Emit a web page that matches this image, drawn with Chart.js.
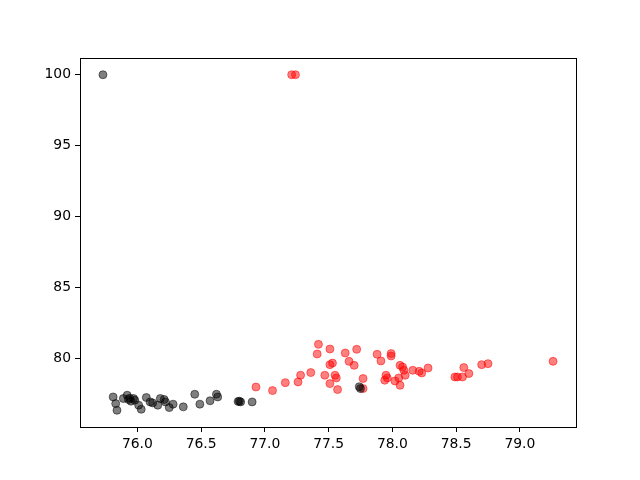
<!DOCTYPE html>
<html>
<head>
<meta charset="utf-8">
<script src="https://cdn.jsdelivr.net/npm/chart.js@4"></script>
<style>
  html, body { margin: 0; padding: 0; background: #fff; }
  #wrap { width: 640px; height: 480px; }
</style>
</head>
<body>
<div id="wrap"><canvas id="chart" width="640" height="480"></canvas></div>
<script>
// black group
const blackX = [75.73, 75.81, 75.83, 75.84, 75.89, 75.92, 75.93, 75.94, 75.95, 75.97, 75.98,
  76.01, 76.03, 76.07, 76.10, 76.12, 76.16, 76.18, 76.21, 76.22, 76.25, 76.28, 76.36, 76.45,
  76.49, 76.57, 76.62, 76.63, 76.79, 76.81, 76.80, 76.90, 77.74, 77.75];
const blackY = [100.0, 77.27, 76.80, 76.33, 77.16, 77.39, 77.09, 77.18, 76.97, 77.16, 77.04,
  76.69, 76.40, 77.23, 76.92, 76.85, 76.69, 77.16, 77.09, 76.92, 76.52, 76.76, 76.57, 77.46,
  76.76, 77.00, 77.46, 77.27, 76.95, 76.92, 76.97, 76.92, 77.99, 77.86];

// red group
const redX = [76.93, 77.06, 77.16, 77.26, 77.28, 77.36, 77.42, 77.41, 77.51, 77.51, 77.53,
  77.47, 77.51, 77.55, 77.56, 77.57, 77.63, 77.66, 77.70, 77.72, 77.77, 77.77, 77.88, 77.91,
  77.99, 77.99, 77.95, 77.96, 77.94, 78.02, 78.06, 78.08, 78.09, 78.05, 78.06, 78.10, 78.16,
  78.21, 78.23, 78.28, 78.49, 78.51, 78.55, 78.56, 78.60, 78.70, 78.75, 79.26, 77.21, 77.24];
const redY = [77.97, 77.72, 78.28, 78.33, 78.80, 78.99, 80.98, 80.30, 80.65, 79.55, 79.66,
  78.80, 78.21, 78.80, 78.61, 77.79, 80.37, 79.78, 79.50, 80.63, 78.57, 77.86, 80.28, 79.81,
  80.33, 80.16, 78.80, 78.61, 78.45, 78.40, 79.50, 79.38, 79.15, 78.61, 78.09, 78.80, 79.15,
  79.08, 78.96, 79.31, 78.68, 78.68, 78.68, 79.34, 78.92, 79.55, 79.62, 79.78, 100.0, 100.0];

const xTicks = [76.0, 76.5, 77.0, 77.5, 78.0, 78.5, 79.0];
const yTicks = [80, 85, 90, 95, 100];

function pts(xs, ys) {
  return xs.map((x, i) => ({ x: x, y: ys[i] }));
}

const frame = {
  id: 'frame',
  afterDraw(chart) {
    const a = chart.chartArea;
    const ctx = chart.ctx;
    ctx.save();
    ctx.strokeStyle = '#000';
    ctx.lineWidth = 1;
    ctx.strokeRect(Math.round(a.left) + 0.5, Math.round(a.top) + 0.5,
      Math.round(a.right - a.left), Math.round(a.bottom - a.top));
    ctx.restore();
  }
};

Chart.defaults.font.family = 'DejaVu Sans';
Chart.defaults.font.size = 13.9;
Chart.defaults.color = '#000';

new Chart(document.getElementById('chart'), {
  type: 'scatter',
  data: {
    datasets: [
      {
        data: pts(blackX, blackY),
        backgroundColor: 'rgba(0,0,0,0.5)',
        borderColor: 'rgba(0,0,0,0.5)',
        borderWidth: 1,
        pointRadius: 4,
        pointHoverRadius: 4
      },
      {
        data: pts(redX, redY),
        backgroundColor: 'rgba(255,0,0,0.5)',
        borderColor: 'rgba(255,0,0,0.5)',
        borderWidth: 1,
        pointRadius: 4,
        pointHoverRadius: 4
      }
    ]
  },
  options: {
    responsive: false,
    animation: false,
    layout: { padding: { left: 0, right: 64, top: 58, bottom: 0 } },
    plugins: {
      legend: { display: false },
      tooltip: { enabled: false }
    },
    scales: {
      x: {
        type: 'linear',
        min: 75.55,
        max: 79.44,
        afterBuildTicks: s => { s.ticks = xTicks.map(v => ({ value: v })); },
        afterFit: s => { s.height = 53; },
        ticks: {
          padding: 4,
          callback: v => v.toFixed(1)
        },
        grid: {
          drawOnChartArea: false,
          drawTicks: true,
          tickLength: 5,
          tickColor: '#000'
        },
        border: { display: false }
      },
      y: {
        type: 'linear',
        min: 75.15,
        max: 101.18,
        afterBuildTicks: s => { s.ticks = yTicks.map(v => ({ value: v })); },
        afterFit: s => { s.width = 80; },
        ticks: {
          padding: 4,
          callback: v => String(v)
        },
        grid: {
          drawOnChartArea: false,
          drawTicks: true,
          tickLength: 5,
          tickColor: '#000'
        },
        border: { display: false }
      }
    }
  },
  plugins: [frame]
});
</script>
</body>
</html>
